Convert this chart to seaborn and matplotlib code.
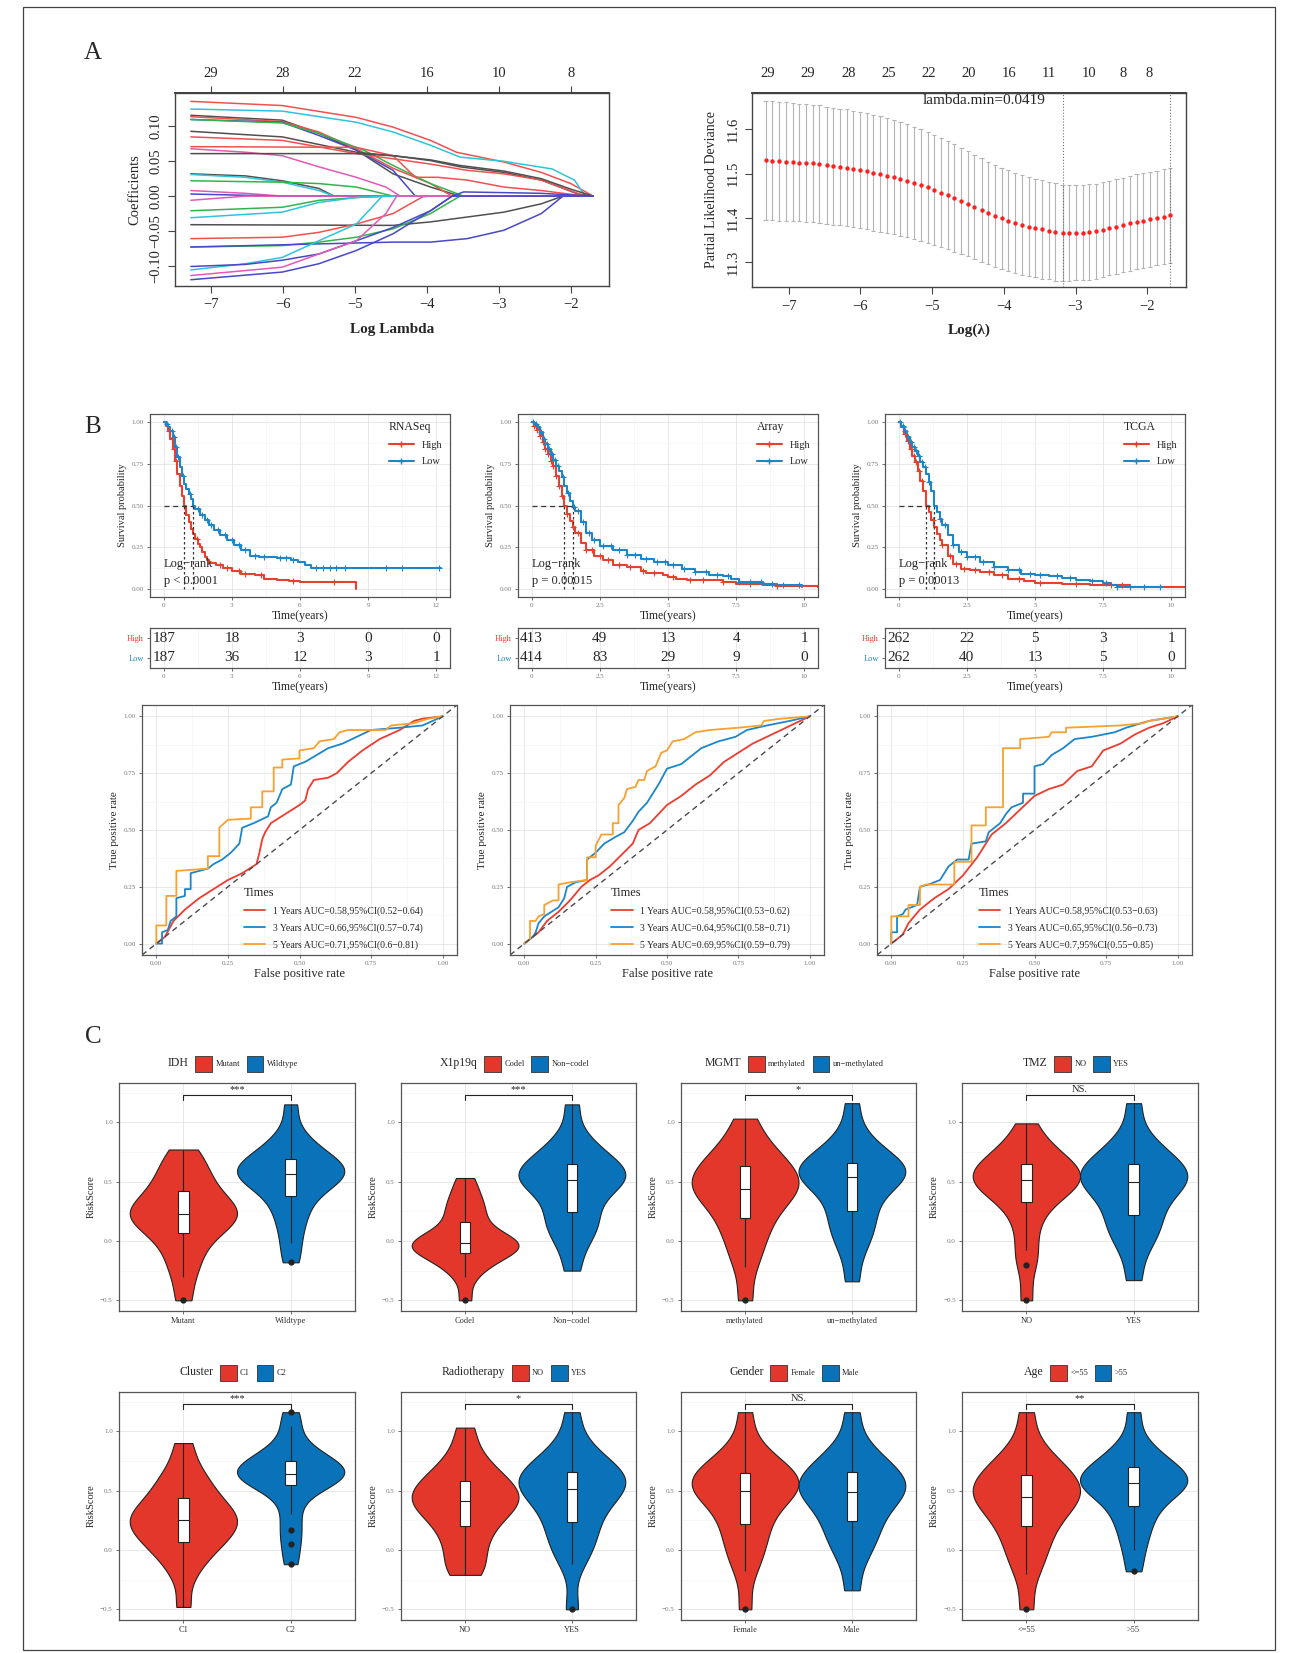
import numpy as np
import pandas as pd
import seaborn as sns
import matplotlib.pyplot as plt
from matplotlib.lines import Line2D
from matplotlib.patches import Patch, Rectangle
from matplotlib.ticker import AutoMinorLocator

W, H = 1296, 1653

# ---------------- A: lasso coefficient paths (log lambda, coefficient) ----------------
lasso_x = [
    [-7.28, -6.01, -4.98, -4.47, -3.95, -3.59, -2.93, -2.41, -2.0, -1.69],
    [-7.28, -6.01, -4.98, -4.47, -3.95, -3.54, -2.93, -2.26, -1.95, -1.80],
    [-7.28, -6.01, -5.50, -4.98, -4.47, -3.95, -3.54],
    [-7.28, -6.01, -5.50, -4.98, -4.47, -3.95, -3.65],
    [-7.28, -6.01, -5.50, -4.98, -4.47, -4.16],
    [-7.28, -6.01, -5.50, -4.88, -4.47, -3.95, -3.49],
    [-7.28, -6.01, -4.98, -4.47, -3.95, -3.54, -2.93, -2.41, -1.90, -1.69],
    [-7.28, -6.01, -4.98, -3.95, -3.44, -2.93, -2.41, -1.80],
    [-7.28, -4.98, -4.47, -4.16, -3.85, -3.44, -2.93, -2.41, -1.80],
    [-7.28, -6.52, -6.01, -5.50, -4.98, -4.57, -4.37],
    [-7.28, -4.98, -4.47, -3.95, -3.54, -2.93, -2.41, -2.0, -1.69],
    [-7.28, -6.52, -6.01, -5.50, -5.29],
    [-7.28, -6.52, -6.01, -5.50, -5.29],
    [-7.28, -6.01, -5.50, -4.98, -4.47],
    [-7.28, -6.52, -6.01],
    [-7.28, -6.01],
    [-7.28, -6.52],
    [-7.28, -6.01, -5.50, -4.98, -4.47],
    [-7.28, -6.01, -5.50, -4.98, -4.62],
    [-7.28, -4.47, -3.95, -3.44, -2.93, -2.41, -2.11],
    [-7.28, -6.01, -5.50, -4.98, -4.47, -4.06, -3.95],
    [-7.28, -6.01, -5.50, -4.98, -4.47, -3.95, -3.54],
    [-7.28, -4.47, -3.95, -3.44, -2.93, -2.41, -2.11],
    [-7.28, -6.52, -6.01, -5.50, -4.98, -4.62],
    [-7.28, -6.52, -6.01, -5.50, -4.98, -4.47, -3.95, -3.65],
    [-7.28, -6.01, -5.50, -4.98, -4.57, -4.42],
    [-7.28, -6.01, -5.50, -4.98, -4.47, -3.95, -3.65],
    [-3.65, -3.49, -2.93, -2.41, -1.69],
]
lasso_y = [
    [0.136, 0.130, 0.113, 0.099, 0.080, 0.063, 0.049, 0.034, 0.018, 0.0],
    [0.125, 0.122, 0.106, 0.092, 0.073, 0.056, 0.050, 0.039, 0.023, 0.0],
    [0.116, 0.109, 0.090, 0.066, 0.032, 0.013, 0.0],
    [0.114, 0.107, 0.092, 0.068, 0.040, 0.018, 0.0],
    [0.110, 0.106, 0.087, 0.066, 0.037, 0.0],
    [0.110, 0.105, 0.090, 0.066, 0.044, 0.018, 0.0],
    [0.093, 0.085, 0.063, 0.058, 0.051, 0.042, 0.034, 0.023, 0.003, 0.0],
    [0.085, 0.080, 0.061, 0.046, 0.037, 0.032, 0.023, 0.0],
    [0.071, 0.070, 0.058, 0.027, 0.027, 0.023, 0.013, 0.008, 0.0],
    [0.068, 0.063, 0.058, 0.042, 0.027, 0.013, 0.0],
    [0.061, 0.061, 0.058, 0.052, 0.044, 0.036, 0.025, 0.010, 0.0],
    [0.032, 0.029, 0.022, 0.011, 0.0],
    [0.031, 0.027, 0.020, 0.008, 0.0],
    [0.022, 0.020, 0.018, 0.013, 0.0],
    [0.008, 0.004, 0.0],
    [0.003, 0.0],
    [-0.006, 0.0],
    [-0.021, -0.016, -0.006, -0.002, 0.0],
    [-0.031, -0.023, -0.009, -0.002, 0.0],
    [-0.041, -0.042, -0.037, -0.030, -0.023, -0.011, 0.0],
    [-0.061, -0.059, -0.052, -0.040, -0.025, -0.001, 0.0],
    [-0.073, -0.071, -0.066, -0.059, -0.047, -0.025, 0.0],
    [-0.073, -0.066, -0.066, -0.061, -0.049, -0.025, 0.0],
    [-0.106, -0.097, -0.088, -0.064, -0.040, 0.0],
    [-0.101, -0.098, -0.092, -0.083, -0.064, -0.045, -0.021, 0.0],
    [-0.114, -0.102, -0.083, -0.064, -0.025, 0.0],
    [-0.120, -0.109, -0.097, -0.078, -0.054, -0.021, 0.0],
    [0.0, 0.006, 0.005, 0.004, 0.0],
]
lasso_colors = ['r', 'c', 'k', 'r', 'b', 'g', 'k', 'r', 'r', 'm', 'k', 'k', 'c', 'g',
                'm', 'b', 'm', 'g', 'c', 'k', 'r', 'g', 'b', 'c', 'b', 'm', 'b', 'b']
lasso_top_ticks = [-7, -6, -5, -4, -3, -2]
lasso_top_labels = ['29', '28', '22', '16', '10', '8']

# ---------------- A: cross-validation curve ----------------
cv_loglambda = [-7.32, -7.23, -7.13, -7.04, -6.94, -6.85, -6.76, -6.66, -6.57, -6.47,
                -6.38, -6.29, -6.19, -6.10, -6.00, -5.91, -5.82, -5.72, -5.63, -5.53,
                -5.44, -5.35, -5.25, -5.16, -5.06, -4.97, -4.88, -4.78, -4.69, -4.59,
                -4.50, -4.41, -4.31, -4.22, -4.12, -4.03, -3.94, -3.84, -3.75, -3.65,
                -3.56, -3.47, -3.37, -3.28, -3.18, -3.09, -3.00, -2.90, -2.81, -2.71,
                -2.62, -2.53, -2.43, -2.34, -2.24, -2.15, -2.06, -1.96, -1.87, -1.77, -1.68]
cv_mean = [11.530, 11.529, 11.528, 11.527, 11.526, 11.525, 11.524, 11.523, 11.521, 11.519,
           11.517, 11.515, 11.513, 11.511, 11.508, 11.505, 11.502, 11.499, 11.495, 11.492,
           11.488, 11.484, 11.479, 11.474, 11.469, 11.463, 11.457, 11.451, 11.445, 11.438,
           11.432, 11.425, 11.418, 11.411, 11.405, 11.399, 11.394, 11.389, 11.384, 11.380,
           11.377, 11.374, 11.371, 11.368, 11.366, 11.366, 11.367, 11.367, 11.368, 11.370,
           11.373, 11.377, 11.380, 11.384, 11.388, 11.391, 11.394, 11.397, 11.400, 11.403, 11.406]
cv_se = [0.134, 0.134, 0.134, 0.134, 0.133, 0.133, 0.133, 0.133, 0.133, 0.132,
         0.132, 0.132, 0.132, 0.131, 0.131, 0.131, 0.131, 0.130, 0.130, 0.129,
         0.129, 0.128, 0.127, 0.126, 0.125, 0.124, 0.123, 0.122, 0.121, 0.120,
         0.119, 0.118, 0.117, 0.116, 0.115, 0.114, 0.114, 0.113, 0.113, 0.112,
         0.111, 0.111, 0.110, 0.110, 0.109, 0.109, 0.108, 0.108, 0.108, 0.107,
         0.107, 0.107, 0.107, 0.107, 0.107, 0.107, 0.107, 0.107, 0.107, 0.107, 0.107]
cv_top_ticks = [-7.29, -6.73, -6.17, -5.61, -5.05, -4.49, -3.93, -3.37, -2.81, -2.34, -1.97]
cv_top_labels = ['29', '29', '28', '25', '22', '20', '16', '11', '10', '8', '8']
lambda_min_log = -3.17
lambda_1se_log = -1.68

# ---------------- B: Kaplan-Meier curves ----------------
rnaseq_high_t = [0, 0.1, 0.2, 0.3, 0.4, 0.5, 0.6, 0.7, 0.8, 0.9, 1.0, 1.1, 1.2, 1.3, 1.4, 1.5, 1.6,
                 1.7, 1.8, 1.9, 2.0, 2.3, 2.6, 3.0, 3.4, 4.0, 4.4, 5.0, 5.5, 6.0, 8.47]
rnaseq_high_s = [1.0, 0.98, 0.95, 0.90, 0.84, 0.77, 0.69, 0.62, 0.56, 0.50, 0.44, 0.40, 0.36, 0.33,
                 0.30, 0.27, 0.25, 0.22, 0.19, 0.17, 0.155, 0.14, 0.125, 0.105, 0.09, 0.08, 0.06,
                 0.055, 0.045, 0.04, 0.0]
rnaseq_low_t = [0, 0.1, 0.2, 0.3, 0.4, 0.5, 0.6, 0.7, 0.8, 0.9, 1.0, 1.1, 1.2, 1.3, 1.4, 1.6, 1.8,
                2.0, 2.2, 2.5, 2.8, 3.1, 3.4, 3.8, 4.2, 5.0, 5.6, 5.9, 6.2, 6.5, 12.2]
rnaseq_low_s = [1.0, 0.99, 0.97, 0.95, 0.91, 0.85, 0.79, 0.73, 0.68, 0.63, 0.60, 0.57, 0.54, 0.50,
                0.48, 0.44, 0.41, 0.38, 0.355, 0.32, 0.29, 0.26, 0.23, 0.195, 0.19, 0.185, 0.175,
                0.16, 0.14, 0.125, 0.125]
rnaseq_high_cens = [0.25, 0.35, 0.45, 0.55, 1.45, 2.5, 2.8, 3.3, 3.6, 4.3, 5.7, 7.5]
rnaseq_low_cens = [0.15, 0.35, 0.45, 0.55, 0.65, 0.85, 1.15, 1.5, 1.7, 1.9, 2.1, 2.4, 2.7, 3.0,
                   3.3, 3.6, 4.0, 4.4, 5.1, 5.4, 5.7, 6.7, 7.0, 7.3, 7.6, 8.0, 9.8, 10.5, 12.1]

array_high_t = [0, 0.1, 0.2, 0.3, 0.4, 0.5, 0.6, 0.7, 0.8, 0.9, 1.0, 1.1, 1.2, 1.3, 1.4, 1.5, 1.6,
                1.8, 2.0, 2.3, 2.6, 3.0, 3.5, 4.0, 4.2, 4.8, 5.0, 5.3, 5.7, 7.0, 7.5, 8.5, 9.0, 10.5]
array_high_s = [1.0, 0.98, 0.955, 0.92, 0.88, 0.84, 0.81, 0.77, 0.735, 0.68, 0.615, 0.56, 0.50,
                0.45, 0.405, 0.37, 0.335, 0.275, 0.235, 0.194, 0.17, 0.144, 0.13, 0.105, 0.094,
                0.085, 0.07, 0.06, 0.05, 0.04, 0.03, 0.025, 0.015, 0.01]
array_low_t = [0, 0.1, 0.2, 0.3, 0.4, 0.5, 0.6, 0.7, 0.8, 0.9, 1.0, 1.1, 1.2, 1.3, 1.4, 1.5, 1.6,
               1.8, 2.0, 2.2, 2.5, 3.0, 3.5, 4.0, 4.5, 5.0, 5.5, 6.0, 6.5, 7.0, 7.3, 7.6, 8.5, 9.0, 9.9]
array_low_s = [1.0, 0.99, 0.97, 0.94, 0.90, 0.87, 0.84, 0.81, 0.775, 0.74, 0.71, 0.67, 0.62, 0.575,
               0.53, 0.49, 0.465, 0.40, 0.335, 0.29, 0.255, 0.23, 0.20, 0.18, 0.16, 0.14, 0.12,
               0.10, 0.085, 0.075, 0.06, 0.04, 0.03, 0.02, 0.01]
array_high_cens = [0.1, 0.2, 0.3, 0.4, 0.5, 0.6, 0.7, 0.8, 0.9, 1.0, 1.1, 1.3, 1.5, 1.7, 2.0, 2.2,
                   2.5, 2.8, 3.2, 3.6, 4.1, 4.5, 5.2, 5.8, 6.3, 7.0, 8.0, 9.0]
array_low_cens = [0.05, 0.15, 0.25, 0.35, 0.45, 0.55, 0.65, 0.75, 0.85, 0.95, 1.15, 1.35, 1.55,
                  1.7, 1.9, 2.1, 2.3, 2.6, 2.9, 3.2, 3.5, 3.8, 4.2, 4.6, 4.9, 5.2, 5.6, 6.0, 6.4,
                  6.8, 7.2, 7.6, 8.0, 8.4, 8.8, 9.2, 9.8]

tcga_high_t = [0, 0.1, 0.2, 0.3, 0.4, 0.5, 0.6, 0.7, 0.8, 0.9, 1.0, 1.1, 1.2, 1.3, 1.4, 1.5, 1.6,
               1.8, 2.0, 2.3, 2.6, 3.0, 3.5, 4.0, 4.6, 5.0, 6.0, 7.0, 7.5, 8.3, 8.5, 10.5]
tcga_high_s = [1.0, 0.97, 0.93, 0.89, 0.84, 0.80, 0.76, 0.71, 0.65, 0.59, 0.50, 0.46, 0.415, 0.37,
               0.33, 0.29, 0.26, 0.194, 0.15, 0.12, 0.11, 0.10, 0.08, 0.06, 0.045, 0.035, 0.03,
               0.025, 0.02, 0.02, 0.01, 0.01]
tcga_low_t = [0, 0.1, 0.2, 0.3, 0.4, 0.5, 0.6, 0.7, 0.8, 0.9, 1.0, 1.1, 1.2, 1.3, 1.4, 1.5, 1.6,
              1.8, 2.0, 2.2, 2.5, 3.0, 3.5, 4.0, 4.5, 5.0, 5.5, 6.0, 6.5, 7.0, 7.5, 7.8, 8.0, 9.7]
tcga_low_s = [1.0, 0.98, 0.95, 0.91, 0.88, 0.85, 0.83, 0.80, 0.76, 0.73, 0.69, 0.64, 0.59, 0.50,
              0.46, 0.42, 0.38, 0.32, 0.26, 0.22, 0.19, 0.16, 0.13, 0.11, 0.09, 0.085, 0.075,
              0.065, 0.055, 0.045, 0.035, 0.02, 0.01, 0.01]
tcga_high_cens = [0.15, 0.25, 0.35, 0.45, 0.55, 0.65, 0.75, 0.85, 1.25, 1.6, 1.9, 2.1, 2.4, 2.8,
                  3.3, 3.8, 4.4, 5.2, 6.5, 7.8, 8.2]
tcga_low_cens = [0.05, 0.15, 0.25, 0.35, 0.45, 0.55, 0.65, 0.75, 0.85, 0.95, 1.1, 1.5, 1.7, 2.0,
                 2.3, 2.5, 2.8, 3.1, 3.5, 4.0, 4.4, 4.8, 5.2, 5.8, 6.3, 7.1, 7.6, 8.0, 8.5, 9.0, 9.6]

km_titles = ['RNASeq', 'Array', 'TCGA']
km_pvals = ['p < 0.0001', 'p = 0.00015', 'p = 0.00013']
rnaseq_risk_times = [0, 3, 6, 9, 12]
rnaseq_risk_high = [187, 18, 3, 0, 0]
rnaseq_risk_low = [187, 36, 12, 3, 1]
array_risk_times = [0, 2.5, 5, 7.5, 10]
array_risk_high = [413, 49, 13, 4, 1]
array_risk_low = [414, 83, 29, 9, 0]
tcga_risk_times = [0, 2.5, 5, 7.5, 10]
tcga_risk_high = [262, 22, 5, 3, 1]
tcga_risk_low = [262, 40, 13, 5, 0]

# ---------------- B: time-dependent ROC ----------------
rnaseq_roc_1y_fpr = [0, 0.03, 0.06, 0.1, 0.15, 0.2, 0.25, 0.3, 0.35, 0.36, 0.37, 0.38, 0.4, 0.45,
                     0.5, 0.52, 0.53, 0.55, 0.6, 0.63, 0.67, 0.72, 0.78, 0.85, 0.9, 0.93, 1.0]
rnaseq_roc_1y_tpr = [0, 0.03, 0.1, 0.15, 0.2, 0.24, 0.28, 0.31, 0.35, 0.4, 0.46, 0.49, 0.53, 0.57,
                     0.61, 0.63, 0.68, 0.72, 0.73, 0.75, 0.8, 0.85, 0.9, 0.94, 0.98, 0.99, 1.0]
rnaseq_roc_3y_fpr = [0, 0.02, 0.02, 0.04, 0.05, 0.07, 0.07, 0.1, 0.1, 0.12, 0.12, 0.15, 0.18, 0.2,
                     0.23, 0.26, 0.29, 0.3, 0.34, 0.39, 0.4, 0.42, 0.44, 0.47, 0.48, 0.52, 0.56,
                     0.6, 0.65, 0.7, 0.75, 0.85, 0.93, 1.0]
rnaseq_roc_3y_tpr = [0, 0, 0.05, 0.06, 0.1, 0.12, 0.2, 0.21, 0.24, 0.24, 0.31, 0.32, 0.33, 0.35,
                     0.37, 0.4, 0.44, 0.51, 0.53, 0.56, 0.6, 0.62, 0.68, 0.7, 0.78, 0.8, 0.83,
                     0.86, 0.88, 0.91, 0.94, 0.95, 0.96, 1.0]
rnaseq_roc_5y_fpr = [0, 0, 0.035, 0.035, 0.07, 0.07, 0.18, 0.18, 0.22, 0.22, 0.25, 0.33, 0.33,
                     0.37, 0.37, 0.41, 0.41, 0.44, 0.44, 0.5, 0.5, 0.55, 0.57, 0.62, 0.64, 0.67,
                     0.8, 0.82, 0.9, 0.95, 1.0]
rnaseq_roc_5y_tpr = [0, 0.08, 0.08, 0.21, 0.21, 0.32, 0.33, 0.385, 0.385, 0.51, 0.545, 0.55, 0.6,
                     0.6, 0.67, 0.67, 0.775, 0.775, 0.81, 0.815, 0.85, 0.86, 0.89, 0.9, 0.93,
                     0.94, 0.94, 0.96, 0.97, 0.99, 1.0]
array_roc_1y_fpr = [0, 0.05, 0.08, 0.12, 0.16, 0.2, 0.23, 0.26, 0.3, 0.34, 0.38, 0.4, 0.44, 0.47,
                    0.5, 0.55, 0.6, 0.65, 0.7, 0.75, 0.8, 0.85, 0.9, 0.95, 1.0]
array_roc_1y_tpr = [0, 0.05, 0.1, 0.14, 0.19, 0.25, 0.28, 0.3, 0.34, 0.39, 0.44, 0.5, 0.53, 0.57,
                    0.61, 0.65, 0.7, 0.74, 0.8, 0.84, 0.88, 0.91, 0.94, 0.97, 1.0]
array_roc_3y_fpr = [0, 0.03, 0.04, 0.05, 0.07, 0.12, 0.14, 0.15, 0.18, 0.22, 0.22, 0.25, 0.28,
                    0.32, 0.35, 0.38, 0.4, 0.43, 0.45, 0.47, 0.5, 0.55, 0.58, 0.62, 0.68, 0.74,
                    0.78, 0.85, 0.93, 1.0]
array_roc_3y_tpr = [0, 0.03, 0.05, 0.09, 0.12, 0.16, 0.2, 0.25, 0.27, 0.28, 0.37, 0.4, 0.44,
                    0.47, 0.49, 0.54, 0.58, 0.62, 0.66, 0.7, 0.77, 0.79, 0.82, 0.86, 0.89, 0.91,
                    0.94, 0.96, 0.98, 1.0]
array_roc_5y_fpr = [0, 0.02, 0.02, 0.04, 0.05, 0.07, 0.07, 0.1, 0.12, 0.12, 0.16, 0.22, 0.22,
                    0.25, 0.25, 0.27, 0.31, 0.31, 0.33, 0.33, 0.35, 0.36, 0.39, 0.4, 0.42, 0.43,
                    0.46, 0.48, 0.5, 0.52, 0.56, 0.6, 0.65, 0.75, 0.83, 0.84, 0.9, 1.0]
array_roc_5y_tpr = [0, 0.02, 0.1, 0.1, 0.12, 0.13, 0.17, 0.19, 0.19, 0.26, 0.27, 0.28, 0.38,
                    0.38, 0.43, 0.48, 0.48, 0.53, 0.53, 0.61, 0.64, 0.68, 0.69, 0.72, 0.72, 0.76,
                    0.78, 0.84, 0.85, 0.89, 0.9, 0.93, 0.94, 0.95, 0.96, 0.98, 0.99, 1.0]
tcga_roc_1y_fpr = [0, 0.04, 0.06, 0.1, 0.15, 0.2, 0.25, 0.3, 0.35, 0.4, 0.45, 0.5, 0.55, 0.6,
                   0.65, 0.7, 0.74, 0.8, 0.85, 0.9, 0.95, 1.0]
tcga_roc_1y_tpr = [0, 0.04, 0.09, 0.15, 0.2, 0.24, 0.3, 0.38, 0.48, 0.53, 0.59, 0.65, 0.68, 0.7,
                   0.76, 0.78, 0.85, 0.88, 0.92, 0.95, 0.97, 1.0]
tcga_roc_3y_fpr = [0, 0, 0.02, 0.02, 0.04, 0.05, 0.09, 0.1, 0.13, 0.17, 0.2, 0.23, 0.27, 0.28,
                   0.33, 0.34, 0.38, 0.4, 0.42, 0.46, 0.46, 0.5, 0.5, 0.53, 0.56, 0.6, 0.64, 0.7,
                   0.78, 0.82, 0.9, 1.0]
tcga_roc_3y_tpr = [0, 0.05, 0.05, 0.12, 0.13, 0.15, 0.17, 0.25, 0.26, 0.28, 0.34, 0.37, 0.37,
                   0.44, 0.45, 0.49, 0.53, 0.57, 0.6, 0.62, 0.66, 0.66, 0.78, 0.79, 0.83, 0.86,
                   0.9, 0.91, 0.93, 0.95, 0.98, 1.0]
tcga_roc_5y_fpr = [0, 0, 0.06, 0.06, 0.1, 0.1, 0.12, 0.22, 0.22, 0.28, 0.28, 0.33, 0.33, 0.39,
                   0.39, 0.45, 0.45, 0.55, 0.56, 0.61, 0.61, 0.8, 0.88, 0.9, 1.0]
tcga_roc_5y_tpr = [0, 0.12, 0.12, 0.17, 0.17, 0.25, 0.26, 0.26, 0.36, 0.36, 0.52, 0.52, 0.6,
                   0.6, 0.86, 0.86, 0.9, 0.91, 0.93, 0.93, 0.95, 0.96, 0.97, 0.98, 1.0]

rnaseq_roc_labels = ['1 Years AUC=0.58,95%CI(0.52\u22120.64)', '3 Years AUC=0.66,95%CI(0.57\u22120.74)',
                     '5 Years AUC=0.71,95%CI(0.6\u22120.81)']
array_roc_labels = ['1 Years AUC=0.58,95%CI(0.53\u22120.62)', '3 Years AUC=0.64,95%CI(0.58\u22120.71)',
                    '5 Years AUC=0.69,95%CI(0.59\u22120.79)']
tcga_roc_labels = ['1 Years AUC=0.58,95%CI(0.53\u22120.63)', '3 Years AUC=0.65,95%CI(0.56\u22120.73)',
                   '5 Years AUC=0.7,95%CI(0.55\u22120.85)']

# ---------------- C: RiskScore by clinical feature ----------------
idh_mutant = [-0.50, -0.30, -0.18, -0.08, 0.00, 0.07, 0.11, 0.15, 0.18, 0.21, 0.23, 0.26, 0.29,
              0.32, 0.36, 0.42, 0.47, 0.53, 0.60, 0.68, 0.77]
idh_wildtype = [-0.18, -0.02, 0.12, 0.22, 0.31, 0.38, 0.44, 0.49, 0.52, 0.54, 0.56, 0.58, 0.60,
                0.62, 0.65, 0.69, 0.72, 0.76, 0.82, 0.92, 1.15]
codel = [-0.50, -0.30, -0.22, -0.17, -0.13, -0.10, -0.08, -0.06, -0.04, -0.03, -0.02, 0.00, 0.02,
         0.05, 0.09, 0.16, 0.22, 0.28, 0.34, 0.42, 0.53]
non_codel = [-0.25, -0.05, 0.05, 0.12, 0.18, 0.24, 0.32, 0.40, 0.45, 0.48, 0.51, 0.54, 0.56,
             0.58, 0.61, 0.65, 0.69, 0.74, 0.80, 0.90, 1.15]
mgmt_meth = [-0.50, -0.22, -0.08, 0.03, 0.12, 0.19, 0.27, 0.33, 0.38, 0.41, 0.44, 0.48, 0.51,
             0.54, 0.58, 0.63, 0.67, 0.72, 0.78, 0.88, 1.03]
mgmt_unmeth = [-0.34, -0.10, 0.02, 0.10, 0.18, 0.25, 0.33, 0.41, 0.47, 0.51, 0.54, 0.56, 0.58,
               0.60, 0.63, 0.66, 0.70, 0.75, 0.81, 0.92, 1.16]
tmz_no = [-0.50, -0.20, -0.08, 0.10, 0.22, 0.33, 0.38, 0.42, 0.46, 0.49, 0.51, 0.53, 0.55, 0.58,
          0.61, 0.645, 0.68, 0.72, 0.77, 0.85, 0.99]
tmz_yes = [-0.33, -0.10, 0.02, 0.09, 0.16, 0.22, 0.30, 0.37, 0.42, 0.46, 0.495, 0.52, 0.55,
           0.58, 0.61, 0.645, 0.69, 0.74, 0.80, 0.91, 1.16]
cluster_c1 = [-0.48, -0.22, -0.10, -0.02, 0.03, 0.07, 0.12, 0.16, 0.19, 0.22, 0.25, 0.28, 0.31,
              0.34, 0.38, 0.44, 0.49, 0.55, 0.62, 0.72, 0.90]
cluster_c2 = [-0.12, 0.05, 0.17, 0.30, 0.45, 0.545, 0.57, 0.59, 0.61, 0.625, 0.64, 0.655, 0.67,
              0.69, 0.72, 0.75, 0.78, 0.82, 0.88, 1.04, 1.16]
radio_no = [-0.21, -0.15, -0.05, 0.05, 0.13, 0.20, 0.26, 0.31, 0.35, 0.38, 0.41, 0.44, 0.47,
            0.50, 0.54, 0.58, 0.62, 0.67, 0.74, 0.85, 1.03]
radio_yes = [-0.50, -0.12, 0.00, 0.08, 0.16, 0.235, 0.31, 0.38, 0.43, 0.48, 0.515, 0.54, 0.57,
             0.60, 0.63, 0.66, 0.70, 0.75, 0.81, 0.92, 1.16]
female = [-0.50, -0.18, -0.05, 0.05, 0.14, 0.215, 0.30, 0.38, 0.43, 0.47, 0.50, 0.53, 0.56, 0.59,
          0.62, 0.645, 0.68, 0.73, 0.79, 0.90, 1.16]
male = [-0.34, -0.10, 0.02, 0.10, 0.17, 0.24, 0.31, 0.37, 0.42, 0.46, 0.49, 0.52, 0.55, 0.58,
        0.62, 0.66, 0.70, 0.75, 0.81, 0.92, 1.16]
age_young = [-0.50, -0.20, -0.07, 0.03, 0.12, 0.20, 0.27, 0.33, 0.38, 0.42, 0.445, 0.48, 0.51,
             0.55, 0.59, 0.63, 0.67, 0.72, 0.79, 0.90, 1.16]
age_old = [-0.18, 0.00, 0.12, 0.22, 0.30, 0.37, 0.43, 0.48, 0.52, 0.54, 0.56, 0.58, 0.60, 0.62,
           0.66, 0.70, 0.73, 0.77, 0.83, 0.93, 1.16]

violin_vars = ['IDH', 'X1p19q', 'MGMT', 'TMZ', 'Cluster', 'Radiotherapy', 'Gender', 'Age']
violin_levels = [['Mutant', 'Wildtype'], ['Codel', 'Non\u2212codel'], ['methylated', 'un\u2212methylated'],
                 ['NO', 'YES'], ['C1', 'C2'], ['NO', 'YES'], ['Female', 'Male'], ['<=55', '>55']]
violin_values = [(idh_mutant, idh_wildtype), (codel, non_codel), (mgmt_meth, mgmt_unmeth),
                 (tmz_no, tmz_yes), (cluster_c1, cluster_c2), (radio_no, radio_yes),
                 (female, male), (age_young, age_old)]
violin_sig = ['***', '***', '*', 'NS.', '***', '*', 'NS.', '**']

# ---------------- style ----------------
LASSO_PAL = {'k': '#505050', 'r': '#F25050', 'g': '#32B44C', 'b': '#4848C8', 'c': '#2EC4DC', 'm': '#E25AB6'}
KM_RED, KM_BLUE = '#E8402F', '#1C86C8'
ROC_COLORS = ['#EE3B2F', '#1C86C8', '#F8A030']
V_RED, V_BLUE = '#E2372A', '#0A72B8'

sns.set_theme(style="white")
plt.rcParams['font.family'] = ['Liberation Serif', 'DejaVu Serif']
plt.rcParams['axes.unicode_minus'] = True

fig = plt.figure(figsize=(W / 100, H / 100), dpi=100)


def box(x0, y0, x1, y1):
    return fig.add_axes([x0 / W, 1 - y1 / H, (x1 - x0) / W, (y1 - y0) / H])


def gg_style(ax, labelsize=5.0):
    for sp in ax.spines.values():
        sp.set_color('#555555')
        sp.set_linewidth(0.9)
    ax.tick_params(which='major', length=2.5, width=0.6, color='#555555', labelcolor='#777777',
                   labelsize=labelsize, pad=2, bottom=True, left=True)
    ax.tick_params(which='minor', length=0)
    ax.xaxis.set_minor_locator(AutoMinorLocator(2))
    ax.yaxis.set_minor_locator(AutoMinorLocator(2))
    ax.grid(which='major', color='#E4E4E4', lw=0.6)
    ax.grid(which='minor', color='#F1F1F1', lw=0.4)
    ax.set_axisbelow(True)


def base_style(ax):
    for sp in ax.spines.values():
        sp.set_color('#444444')
        sp.set_linewidth(1.0)
    ax.tick_params(length=5, width=0.8, color='#444444', labelsize=10.5, pad=4, bottom=True, left=True)


# ---------------- panel A ----------------
fig.text(93 / W, 1 - 53 / H, 'A', fontsize=18, ha='center', va='center')

ax = box(175, 93, 609, 286)
for xs, ys, c in zip(lasso_x, lasso_y, lasso_colors):
    xs, ys = list(xs), list(ys)
    if xs[-1] < -1.69:
        xs.append(-1.69)
        ys.append(0.0)
    sns.lineplot(x=xs, y=ys, color=LASSO_PAL[c], lw=1.1, sort=False, estimator=None, ax=ax, legend=False)
ax.set_xlim(-7.5, -1.47)
ax.set_ylim(-0.129, 0.148)
base_style(ax)
ax.set_xticks([-7, -6, -5, -4, -3, -2])
ax.set_yticks([-0.10, -0.05, 0.0, 0.05, 0.10])
ax.set_yticklabels(['\u22120.10', '\u22120.05', '0.00', '0.05', '0.10'], rotation=90, va='center')
ax.set_xlabel('Log Lambda', fontsize=11, fontweight='bold', labelpad=8)
ax.set_ylabel('Coefficients', fontsize=10.5, labelpad=6)
top = ax.secondary_xaxis('top')
top.set_xticks(lasso_top_ticks, lasso_top_labels)
top.tick_params(length=5, width=0.8, color='#444444', labelsize=10.5, pad=4)

ax = box(752, 93, 1186, 287)
cv_lo = np.array(cv_mean) - np.array(cv_se)
cv_hi = np.array(cv_mean) + np.array(cv_se)
lx = np.array(cv_loglambda)
ax.vlines(lx, cv_lo, cv_hi, color='#B4B4B4', lw=0.8)
ax.hlines(cv_hi, lx - 0.03, lx + 0.03, color='#B4B4B4', lw=0.8)
ax.hlines(cv_lo, lx - 0.03, lx + 0.03, color='#B4B4B4', lw=0.8)
sns.scatterplot(x=cv_loglambda, y=cv_mean, color='#FF2020', s=10, linewidth=0, ax=ax, zorder=3)
ax.axvline(lambda_min_log, ls=':', color='#707070', lw=0.8)
ax.axvline(lambda_1se_log, ls=':', color='#707070', lw=0.8)
ax.text(-4.28, 11.664, 'lambda.min=0.0419', ha='center', va='center', fontsize=11)
ax.set_xlim(-7.51, -1.46)
ax.set_ylim(11.244, 11.682)
base_style(ax)
ax.set_xticks([-7, -6, -5, -4, -3, -2])
ax.set_yticks([11.3, 11.4, 11.5, 11.6])
ax.set_yticklabels(['11.3', '11.4', '11.5', '11.6'], rotation=90, va='center')
ax.set_xlabel('Log(\u03bb)', fontsize=11, fontweight='bold', labelpad=8)
ax.set_ylabel('Partial Likelihood Deviance', fontsize=10, labelpad=6)
top = ax.secondary_xaxis('top')
top.set_xticks(cv_top_ticks, cv_top_labels)
top.tick_params(length=0, labelsize=10.5, pad=9)

# ---------------- panel B ----------------
fig.text(93 / W, 1 - 427 / H, 'B', fontsize=18, ha='center', va='center')


def km_median(t, s):
    for ti, si in zip(t, s):
        if si <= 0.5:
            return ti
    return None


def km_panel(ax, curves, title, ptext, ticks, xlim):
    meds = []
    for t, s, cens, col in curves:
        sns.lineplot(x=t, y=s, drawstyle='steps-post', color=col, lw=1.5, sort=False,
                     estimator=None, ax=ax, legend=False)
        ta, sa = np.asarray(t), np.asarray(s)
        idx = np.searchsorted(ta, cens, side='right') - 1
        ax.scatter(cens, sa[idx], marker='+', color=col, s=24, lw=0.8, zorder=3)
        meds.append(km_median(t, s))
    ax.hlines(0.5, 0, max(meds), colors='#333333', linestyles=(0, (4, 3)), lw=0.9)
    ax.vlines(meds, 0, 0.5, colors='#333333', linestyles=(0, (2, 2)), lw=0.9)
    ax.text(0.0, 0.15, 'Log\u2212rank', fontsize=9, va='center', ha='left')
    ax.text(0.0, 0.045, ptext, fontsize=9, va='center', ha='left')
    ax.set_xlim(*xlim)
    ax.set_ylim(-0.05, 1.05)
    ax.set_xticks(ticks)
    ax.set_xticklabels([('%g' % v) for v in ticks])
    ax.set_yticks([0, 0.25, 0.5, 0.75, 1.0])
    ax.set_yticklabels(['0.00', '0.25', '0.50', '0.75', '1.00'])
    gg_style(ax)
    ax.set_xlabel('Time(years)', fontsize=8.5, labelpad=1)
    ax.set_ylabel('Survival probability', fontsize=7.5, labelpad=3)
    hd = [Line2D([], [], color=KM_RED, lw=1.5, marker='+', ms=5),
          Line2D([], [], color=KM_BLUE, lw=1.5, marker='+', ms=5)]
    ax.legend(hd, ['High', 'Low'], title=title, loc='upper right', frameon=False,
              fontsize=7.5, title_fontsize=8.5, handlelength=2.4, labelspacing=0.7,
              borderaxespad=0.3, alignment='left')


def risk_table(ax, times, high, low, ticks, xlim):
    for t, h, l in zip(times, high, low):
        ax.text(t, 1, str(h), ha='center', va='center', fontsize=11)
        ax.text(t, 0, str(l), ha='center', va='center', fontsize=11)
    ax.set_xlim(*xlim)
    ax.set_ylim(-0.55, 1.55)
    ax.set_xticks(ticks)
    ax.set_xticklabels([('%g' % v) for v in ticks])
    ax.set_yticks([1, 0])
    ax.set_yticklabels(['High', 'Low'])
    gg_style(ax)
    ax.yaxis.set_minor_locator(plt.NullLocator())
    ax.grid(axis='y', which='both', visible=False)
    for lab, col in zip(ax.get_yticklabels(), [KM_RED, KM_BLUE]):
        lab.set_color(col)
        lab.set_fontsize(6)
    ax.set_xlabel('Time(years)', fontsize=8.5, labelpad=1)


def roc_panel(ax, curves, labels):
    handles = []
    for (fx, ty), col in zip(curves, ROC_COLORS):
        sns.lineplot(x=fx, y=ty, color=col, lw=1.3, sort=False, estimator=None, ax=ax, legend=False)
        handles.append(Line2D([], [], color=col, lw=1.3))
    ax.axline((0, 0), (1, 1), ls=(0, (4, 3)), color='#4a4a4a', lw=1.0)
    ax.set_xlim(-0.05, 1.05)
    ax.set_ylim(-0.05, 1.05)
    ticks = [0, 0.25, 0.5, 0.75, 1.0]
    tl = ['0.00', '0.25', '0.50', '0.75', '1.00']
    ax.set_xticks(ticks, tl)
    ax.set_yticks(ticks, tl)
    gg_style(ax)
    ax.set_xlabel('False positive rate', fontsize=9, labelpad=1)
    ax.set_ylabel('True positive rate', fontsize=8, labelpad=3)
    ax.legend(handles, labels, title='Times', loc='lower left', bbox_to_anchor=(0.31, 0.005),
              frameon=False, fontsize=7, title_fontsize=9, handlelength=2.2,
              labelspacing=0.75, alignment='left', borderaxespad=0)


km_specs = [
    ((150, 450), [(rnaseq_high_t, rnaseq_high_s, rnaseq_high_cens, KM_RED),
                  (rnaseq_low_t, rnaseq_low_s, rnaseq_low_cens, KM_BLUE)],
     [0, 3, 6, 9, 12], (-0.6, 12.6), rnaseq_risk_times, rnaseq_risk_high, rnaseq_risk_low),
    ((518, 818), [(array_high_t, array_high_s, array_high_cens, KM_RED),
                  (array_low_t, array_low_s, array_low_cens, KM_BLUE)],
     [0, 2.5, 5, 7.5, 10], (-0.5, 10.5), array_risk_times, array_risk_high, array_risk_low),
    ((885, 1185), [(tcga_high_t, tcga_high_s, tcga_high_cens, KM_RED),
                   (tcga_low_t, tcga_low_s, tcga_low_cens, KM_BLUE)],
     [0, 2.5, 5, 7.5, 10], (-0.5, 10.5), tcga_risk_times, tcga_risk_high, tcga_risk_low),
]
for i, (xr, curves, ticks, xlim, rt, rh, rl) in enumerate(km_specs):
    ax = box(xr[0], 414, xr[1], 597)
    km_panel(ax, curves, km_titles[i], km_pvals[i], ticks, xlim)
    ax = box(xr[0], 628, xr[1], 668)
    risk_table(ax, rt, rh, rl, ticks, xlim)

roc_specs = [
    ((142, 457), [(rnaseq_roc_1y_fpr, rnaseq_roc_1y_tpr), (rnaseq_roc_3y_fpr, rnaseq_roc_3y_tpr),
                  (rnaseq_roc_5y_fpr, rnaseq_roc_5y_tpr)], rnaseq_roc_labels),
    ((510, 824), [(array_roc_1y_fpr, array_roc_1y_tpr), (array_roc_3y_fpr, array_roc_3y_tpr),
                  (array_roc_5y_fpr, array_roc_5y_tpr)], array_roc_labels),
    ((877, 1192), [(tcga_roc_1y_fpr, tcga_roc_1y_tpr), (tcga_roc_3y_fpr, tcga_roc_3y_tpr),
                   (tcga_roc_5y_fpr, tcga_roc_5y_tpr)], tcga_roc_labels),
]
for xr, curves, labels in roc_specs:
    ax = box(xr[0], 705, xr[1], 955)
    roc_panel(ax, curves, labels)

# ---------------- panel C ----------------
fig.text(93 / W, 1 - 1037 / H, 'C', fontsize=18, ha='center', va='center')

col_x = [(119, 355), (401, 636), (681, 916), (962, 1198)]
row_y = [(1083, 1311), (1392, 1620)]

for k, name in enumerate(violin_vars):
    r, c = divmod(k, 4)
    ax = box(col_x[c][0], row_y[r][0], col_x[c][1], row_y[r][1])
    lv = violin_levels[k]
    v1, v2 = violin_values[k]
    df = pd.DataFrame({'group': [lv[0]] * len(v1) + [lv[1]] * len(v2), 'RiskScore': list(v1) + list(v2)})
    sns.violinplot(data=df, x='group', y='RiskScore', hue='group', order=lv, hue_order=lv,
                   palette=[V_RED, V_BLUE], saturation=1, cut=0, density_norm='area', width=1.0,
                   bw_adjust=0.7, inner=None, linecolor='#222222', linewidth=0.8, legend=False, ax=ax)
    sns.boxplot(data=df, x='group', y='RiskScore', order=lv, width=0.1, color='white', saturation=1,
                linecolor='#222222', linewidth=0.8, showcaps=False,
                flierprops=dict(marker='o', markerfacecolor='#222222', markeredgecolor='#222222',
                                markersize=3.5), ax=ax)
    ax.plot([0, 0, 1, 1], [1.19, 1.23, 1.23, 1.19], color='#222222', lw=0.8)
    ax.text(0.5, 1.235, violin_sig[k], ha='center', va='bottom', fontsize=7.5)
    ax.set_xlim(-0.6, 1.6)
    ax.set_ylim(-0.59, 1.33)
    ax.set_yticks([-0.5, 0.0, 0.5, 1.0], ['\u22120.5', '0.0', '0.5', '1.0'])
    gg_style(ax, labelsize=5.0)
    ax.xaxis.set_minor_locator(plt.NullLocator())
    ax.tick_params(axis='x', labelsize=6, labelcolor='#333333')
    ax.set_xlabel('')
    ax.set_ylabel('RiskScore', fontsize=7.5, labelpad=3)
    hd = [Patch(facecolor='none', edgecolor='none'),
          Patch(facecolor=V_RED, edgecolor='#333333', lw=0.6),
          Patch(facecolor=V_BLUE, edgecolor='#333333', lw=0.6)]
    leg = ax.legend(hd, [name, lv[0], lv[1]], loc='lower center', bbox_to_anchor=(0.44, 1.035),
                    ncol=3, frameon=False, fontsize=6, handlelength=2.0, handleheight=2.6,
                    handletextpad=0.4, columnspacing=0.8, borderaxespad=0)
    leg.get_texts()[0].set_fontsize(8.5)

# outer frame
fig.patches.append(Rectangle((23 / W, 3 / H), (1275 - 23) / W, (1648 - 5) / H, transform=fig.transFigure,
                             fill=False, lw=0.9, edgecolor='#444444'))

fig.savefig('out.png', dpi=100)
